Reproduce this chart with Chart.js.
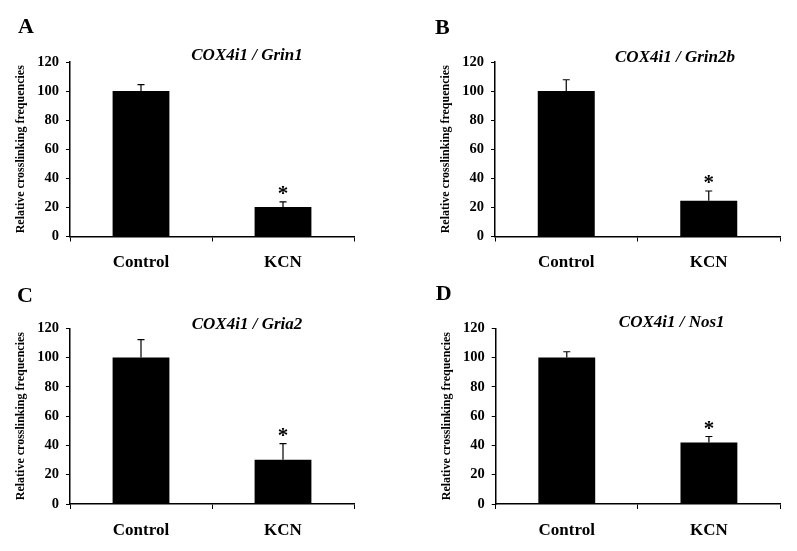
<!DOCTYPE html>
<html>
<head>
<meta charset="utf-8">
<script src="https://cdn.jsdelivr.net/npm/chart.js@4.4.1/dist/chart.umd.min.js"></script>
<style>
  html, body { margin: 0; padding: 0; background: #fff; }
  #wrap { position: relative; width: 797px; height: 551px; overflow: hidden; }
  #wrap canvas { position: absolute; }
</style>
</head>
<body>
<div id="wrap">
  <canvas id="panel-a"></canvas>
  <canvas id="panel-b"></canvas>
  <canvas id="panel-c"></canvas>
  <canvas id="panel-d"></canvas>
</div>
<script>
const categories = ['Control', 'KCN'];
const yTicks = [0, 20, 40, 60, 80, 100, 120];
const panelLetters = ['A', 'B', 'C', 'D'];
const panelTitles = ['COX4i1 / Grin1', 'COX4i1 / Grin2b', 'COX4i1 / Gria2', 'COX4i1 / Nos1'];
const significance = ['', '*'];

const grin1Means = [100, 20.3];
const grin1Errors = [4.5, 3.5];
const grin2bMeans = [100, 24.6];
const grin2bErrors = [7.8, 6.7];
const gria2Means = [100, 30.2];
const gria2Errors = [12.2, 11.1];
const nos1Means = [100, 42];
const nos1Errors = [4, 4.1];

const yAxisTitle = 'Relative crosslinking frequencies';

Chart.defaults.color = '#000';
Chart.defaults.font.family = '"Liberation Serif", "Times New Roman", serif';
Chart.defaults.font.weight = 'bold';

const Y_WIDTH = 66;
const X_HEIGHT = 34;

// canvas box and chart area, page coordinates
const layouts = [
    { box: [0, 0, 400, 270],   area: [70, 354, 62, 236.5],   letter: [-52, -29], title: [177, -2] },
    { box: [400, 0, 397, 270], area: [495, 780, 62, 236.5],  letter: [-60, -28], title: [180, 0] },
    { box: [0, 270, 400, 281], area: [70, 354, 328.3, 504],  letter: [-53, -26], title: [177, 1] },
    { box: [400, 270, 397, 281], area: [495.7, 780, 328.3, 504], letter: [-60, -28], title: [176, -1] }
];

const errorBarPlugin = {
    id: 'errorBars',
    afterDatasetsDraw(chart, args, opts) {
        const ctx = chart.ctx;
        const y = chart.scales.y;
        const meta = chart.getDatasetMeta(0);
        const values = chart.data.datasets[0].data;
        ctx.save();
        ctx.strokeStyle = '#000';
        ctx.lineWidth = 1.2;
        meta.data.forEach((bar, i) => {
            const top = y.getPixelForValue(values[i] + opts.errors[i]);
            ctx.beginPath();
            ctx.moveTo(bar.x, bar.y);
            ctx.lineTo(bar.x, top);
            ctx.moveTo(bar.x - 3.5, top);
            ctx.lineTo(bar.x + 3.5, top);
            ctx.stroke();
            if (opts.marks[i]) {
                ctx.font = 'bold 21px "Liberation Serif", serif';
                ctx.fillStyle = '#000';
                ctx.textAlign = 'center';
                ctx.textBaseline = 'alphabetic';
                const m = ctx.measureText(opts.marks[i]);
                ctx.fillText(opts.marks[i], bar.x, top - 7.5 - m.actualBoundingBoxDescent);
            }
        });
        ctx.restore();
    }
};

const panelTextPlugin = {
    id: 'panelText',
    afterDraw(chart, args, opts) {
        const ctx = chart.ctx;
        const area = chart.chartArea;
        ctx.save();
        ctx.fillStyle = '#000';
        ctx.textBaseline = 'alphabetic';
        ctx.textAlign = 'left';
        ctx.font = 'bold 22px "Liberation Serif", serif';
        ctx.fillText(opts.letter, area.left + opts.letterPos[0], area.top + opts.letterPos[1]);
        ctx.textAlign = 'center';
        ctx.font = 'italic bold 17px "Liberation Serif", serif';
        ctx.fillText(opts.title, area.left + opts.titlePos[0], area.top + opts.titlePos[1]);
        ctx.restore();
    }
};

function drawPanel(id, idx, means, errors) {
    const canvas = document.getElementById(id);
    const lay = layouts[idx];
    const [bx, by, bw, bh] = lay.box;
    const [al, ar, at, ab] = lay.area;
    canvas.width = bw;
    canvas.height = bh;
    canvas.style.left = bx + 'px';
    canvas.style.top = by + 'px';
    canvas.style.width = bw + 'px';
    canvas.style.height = bh + 'px';

    new Chart(canvas, {
        type: 'bar',
        data: {
            labels: categories,
            datasets: [{
                data: means,
                backgroundColor: '#000',
                borderWidth: 0,
                categoryPercentage: 0.4,
                barPercentage: 1
            }]
        },
        options: {
            responsive: false,
            animation: false,
            devicePixelRatio: 1,
            layout: {
                padding: {
                    left: al - bx - Y_WIDTH,
                    top: at - by,
                    right: bx + bw - ar,
                    bottom: by + bh - ab - X_HEIGHT
                }
            },
            scales: {
                x: {
                    afterFit: s => { s.height = X_HEIGHT; },
                    grid: { display: true, drawOnChartArea: false, color: '#000', tickLength: 5, offset: true },
                    border: { color: '#000', width: 1.5 },
                    ticks: { padding: 11, font: { size: 17, weight: 'bold' } }
                },
                y: {
                    min: 0,
                    max: 120,
                    afterFit: s => { s.width = Y_WIDTH; },
                    afterBuildTicks: s => { s.ticks = yTicks.map(v => ({ value: v })); },
                    grid: { display: true, drawOnChartArea: false, color: '#000', tickLength: 4 },
                    border: { color: '#000', width: 1.5 },
                    ticks: { padding: 7, font: { size: 14.5, weight: 'bold' } },
                    title: {
                        display: true,
                        text: yAxisTitle,
                        padding: { top: 10, bottom: 0 },
                        font: { size: 12, weight: 'bold' }
                    }
                }
            },
            plugins: {
                legend: { display: false },
                tooltip: { enabled: false },
                errorBars: { errors: errors, marks: significance },
                panelText: {
                    letter: panelLetters[idx],
                    title: panelTitles[idx],
                    letterPos: lay.letter,
                    titlePos: lay.title
                }
            }
        },
        plugins: [errorBarPlugin, panelTextPlugin]
    });
}

drawPanel('panel-a', 0, grin1Means, grin1Errors);
drawPanel('panel-b', 1, grin2bMeans, grin2bErrors);
drawPanel('panel-c', 2, gria2Means, gria2Errors);
drawPanel('panel-d', 3, nos1Means, nos1Errors);
</script>
</body>
</html>
